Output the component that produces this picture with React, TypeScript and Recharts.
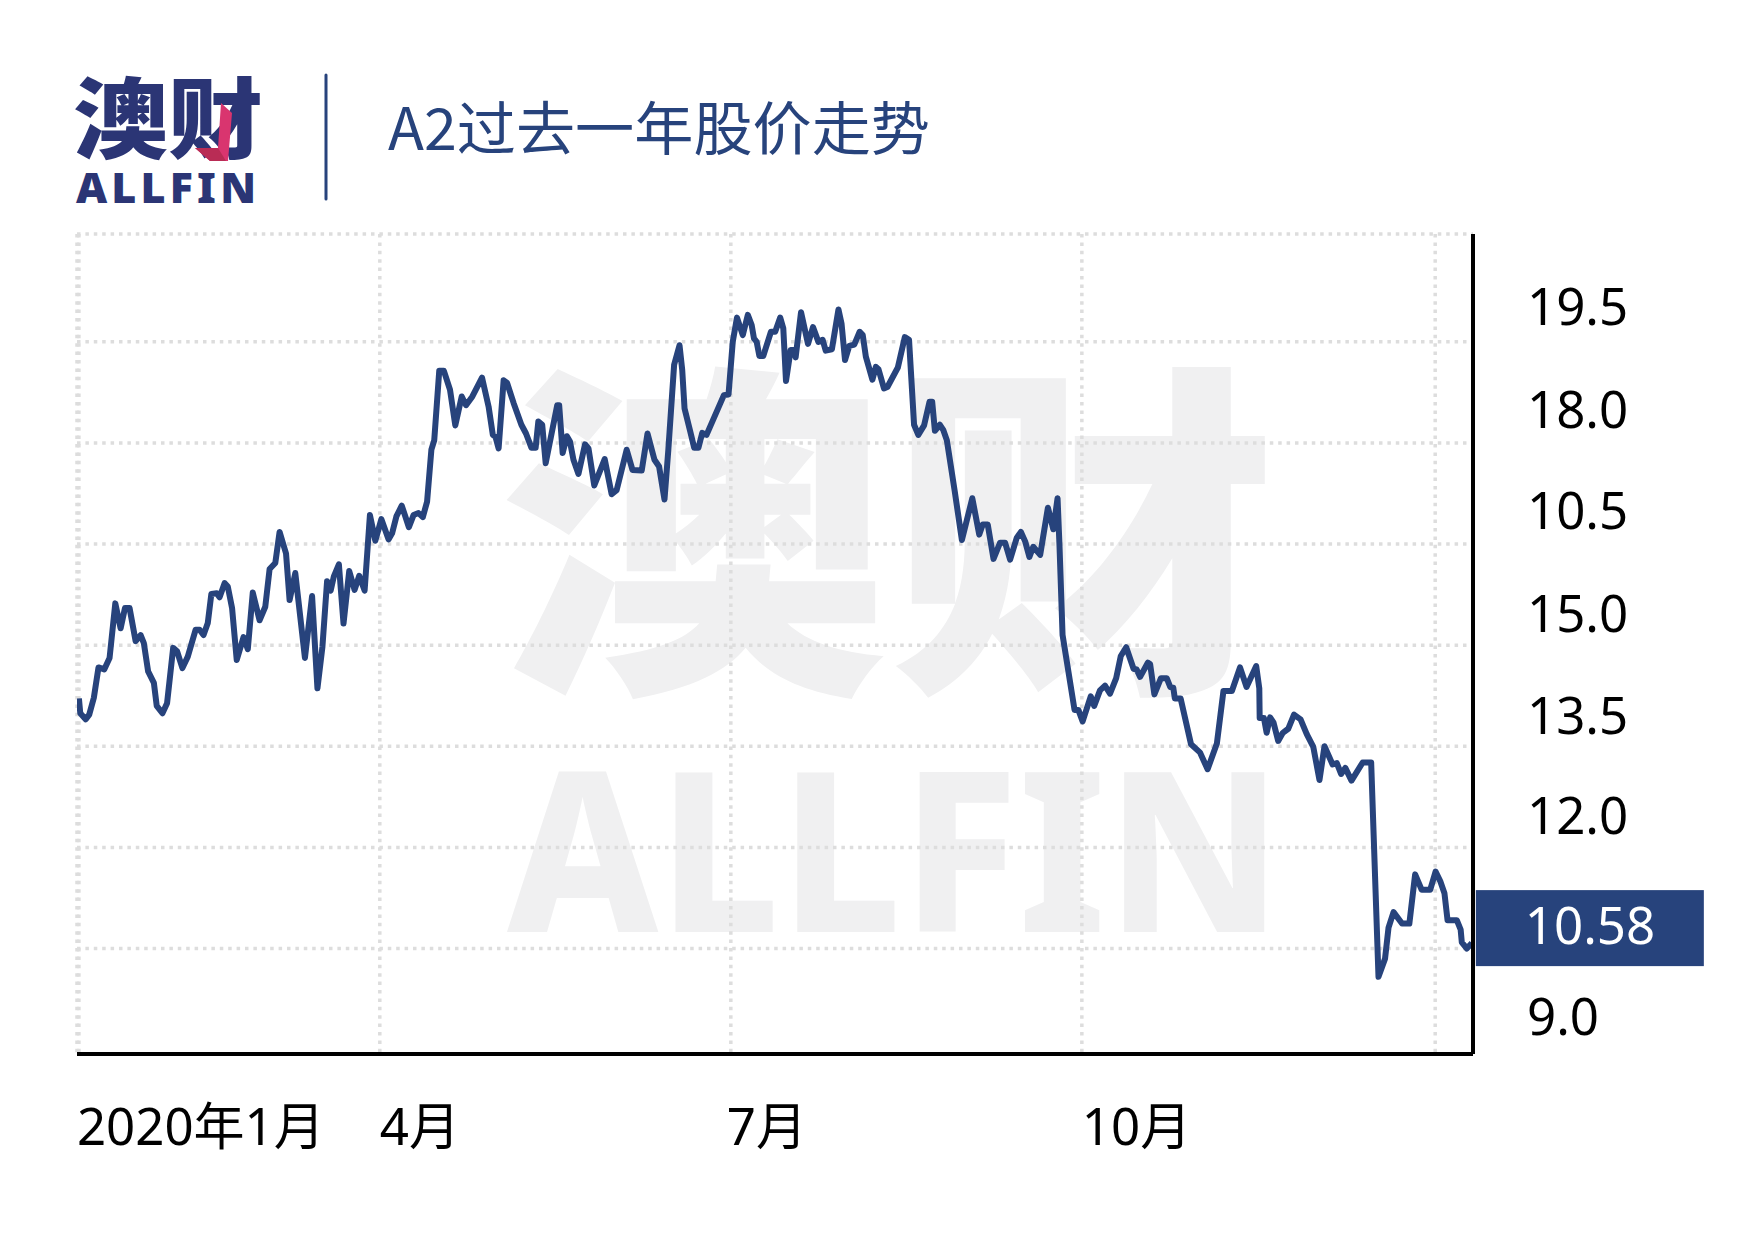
import React from "react";
import { LineChart, Line, XAxis, YAxis, CartesianGrid, ReferenceDot } from "recharts";

const days = [
  0,0.35,1.74,2.67,3.87,5.07,6.56,7.94,9.43,10.81,11.93,13.13,14.7,16,16.83,17.94,19.43,20.17,21.65,22.85,24.43,25.44,26.83,28.22,30.26,31.28,32.3,33.41,34.33,35.72,36.46,37.76,38.59,39.7,40.91,42.67,43.78,45.07,46.83,48.31,49.43,50.91,52.02,53.69,54.61,56.09,58.59,60.44,61.83,63.13,64.33,65.26,66.09,67.39,68.59,70.07,71.46,72.67,74.06,75.44,76.83,78.41,80.26,81.19,82.3,83.69,85.54,86.74,88.04,89.15,90.26,91.37,92.11,93.41,94.61,96.2,97.57,99.24,100.35,102,104.5,106.2,107.3,108,108.8,110.1,111,112.7,114.7,115.9,117.3,118.4,119.1,120.1,121,124,124.5,125.4,126.5,127.3,128.2,129.5,131.2,132.1,133.6,136.3,138.1,
  139.4,142,143.5,145.9,147.4,149.2,150.4,151.8,152.8,154.3,155.7,156.4,157,158.4,159.5,160.6,161.6,162.7,167.2,168.4,169.5,170.6,172.1,173.4,174.4,175,175.7,176.4,177.4,179.4,180.5,181.8,182.6,183.3,184.5,185.4,185.8,187.2,189,190.3,191.7,192.8,193.6,195.2,196.9,197.7,198.6,199.7,201,202.4,203.2,204,205.7,206.6,207.3,208.7,209.6,212.3,214.1,215.2,216.5,217.6,219.1,220.5,221.2,221.9,223.2,224.1,225,227,228.9,231.6,233.4,234.3,235.6,237.1,238.8,240.1,241.4,243.1,244.2,245.3,246.4,247.4,249.2,251.2,252.6,253.7,
  254.2,255,258.1,259.1,260.2,262.3,263.2,264.7,266,267.3,268.9,270.1,271.5,273.4,274.2,275.1,277.1,277.7,278.8,280.5,282,282.9,283.7,284.1,285.6,288.3,290.6,292.6,295,296.7,298.9,301,302.7,305.2,306,306.1,307.2,307.9,308.8,309.7,310.9,312.1,313.5,315,316.7,318.3,320,321.6,322.9,325,326.1,327.2,328.3,329.9,332.8,335,336.9,338.6,339.5,340.8,343,344.9,346.4,348.1,350.3,351.7,352.9,354,354.8,357.2,358.2,358.5,359.8,361.1,
];

const prices = [
  14.21,13.99,13.9,13.97,14.22,14.67,14.64,14.81,15.62,15.25,15.55,15.55,15.06,15.15,15.03,14.61,14.44,14.1,13.99,14.14,14.96,14.91,14.66,14.83,15.23,15.23,15.15,15.33,15.76,15.77,15.71,15.92,15.87,15.55,14.78,15.12,14.94,15.78,15.37,15.57,16.13,16.22,16.68,16.36,15.67,16.07,14.81,15.73,14.36,14.98,15.95,15.81,16.02,16.2,15.32,16.1,15.82,16.03,15.81,16.93,16.55,16.87,16.57,16.66,16.91,17.07,16.75,16.93,16.96,16.9,17.13,17.9,18.04,19.07,19.07,18.79,18.26,18.69,18.56,18.69,18.97,18.54,18.12,18.09,17.92,18.93,18.89,18.59,18.27,18.14,17.93,17.93,18.32,18.27,17.7,18.56,18.56,17.85,18.1,18.02,17.75,17.54,17.98,17.92,17.37,17.76,17.24,
  17.3,17.9,17.6,17.59,18.14,17.75,17.65,17.16,17.9,19.16,19.45,19.08,18.51,18.19,17.93,17.93,18.15,18.12,18.71,18.72,19.5,19.86,19.6,19.9,19.75,19.55,19.5,19.29,19.29,19.65,19.65,19.86,19.7,18.92,19.38,19.38,19.27,19.94,19.47,19.72,19.5,19.53,19.37,19.39,19.98,19.77,19.23,19.44,19.46,19.65,19.6,19.28,18.94,19.13,19.09,18.81,18.83,19.12,19.57,19.53,18.27,18.12,18.26,18.61,18.61,18.18,18.27,18.19,18.04,17.3,16.56,17.18,16.64,16.79,16.79,16.28,16.52,16.52,16.27,16.59,16.68,16.54,16.31,16.46,16.34,17.04,16.72,17.18,
  16.48,15.15,14.04,14.04,13.87,14.24,14.1,14.33,14.4,14.28,14.51,14.84,14.97,14.65,14.64,14.53,14.74,14.72,14.27,14.51,14.51,14.38,14.37,14.21,14.21,13.53,13.41,13.16,13.54,14.32,14.32,14.67,14.38,14.69,14.36,13.92,13.92,13.7,13.93,13.85,13.58,13.7,13.76,13.97,13.9,13.68,13.49,13,13.5,13.23,13.25,13.09,13.18,12.99,13.26,13.26,10.08,10.35,10.81,11.04,10.87,10.87,11.6,11.37,11.37,11.64,11.5,11.32,10.92,10.92,10.78,10.59,10.5,10.58,
];

const xTicks = [0, 78, 169, 260, 351.6];
const xTickLabels = ["2020年1月", "4月", "7月", "10月", ""];
const yTicks = [9, 10.5, 12, 13.5, 15, 16.5, 18, 19.5, 21.1];
const yTickLabels = ["9.0", "", "12.0", "13.5", "15.0", "10.5", "18.0", "19.5", ""];
const gridValues = [10.5, 12, 13.5, 15, 16.5, 18, 19.5, 21.1];
const lastPriceLabel = "10.58";
const titleText = "A2过去一年股价走势";
const brandCn = "澳财";
const brandEn = "ALLFIN";

const chartData = days.map((day, i) => ({ day, price: prices[i] }));
const lastDay = days[days.length - 1];
const lastPrice = prices[prices.length - 1];

const NAVY = "#27437c";
const LOGO = "#2b3575";
const LATIN = '"Noto Sans","Noto Sans CJK SC",sans-serif';
const CJK = '"Noto Sans CJK SC","Noto Sans",sans-serif';

const xLabelNudge = [-2, 0, -4, 0, 0];
const yLabelNudge = [-2, 0, 0, 1, 0, -2, -2, -4, 0];

const XTick = (p: any) => {
  const i = xTicks.indexOf(p.payload.value);
  return (
    <text x={p.x + xLabelNudge[i]} y={p.y + 89} fontSize={51} fontFamily={LATIN} fill="#000" textAnchor="start">
      {xTickLabels[i]}
    </text>
  );
};

const YTick = (p: any) => {
  const i = yTicks.indexOf(p.payload.value);
  return (
    <text x={p.x + 52} y={p.y - 13 + yLabelNudge[i]} fontSize={51} fontFamily={LATIN} fill="#000" textAnchor="start">
      {yTickLabels[i]}
    </text>
  );
};

const PriceBox = (p: any) => (
  <g>
    <rect x={p.cx + 4} y={p.cy - 53} width={228} height={76} fill={NAVY} />
    <text x={p.cx + 53} y={p.cy + 1} fontSize={51} fontFamily={LATIN} fill="#fff">
      {lastPriceLabel}
    </text>
  </g>
);

const Backdrop = () => (
  <svg width={1748} height={1240} style={{ position: "absolute", left: 0, top: 0 }}>
    <text x={498} y={666} fontSize={350} fontWeight={900} fontFamily={CJK} fill="#f0f0f1" textLength={780} lengthAdjust="spacingAndGlyphs">
      {brandCn}
    </text>
    <text x={507} y={932} fontSize={224} fontWeight={800} fontFamily={LATIN} fill="#f0f0f1" textLength={775} lengthAdjust="spacingAndGlyphs">
      {brandEn}
    </text>
    <text x={73} y={151} fontSize={88} fontWeight={900} fontFamily={CJK} fill={LOGO} textLength={190} lengthAdjust="spacingAndGlyphs">
      {brandCn}
    </text>
    <polygon points="221,103 232,113 228,161 210,161 195,148 218,148" fill="#d9356f" />
    <polygon points="195,148 218,148 226,161 210,161" fill="#b92c55" />
    <text x={76} y={203} fontSize={43} fontWeight={900} fontFamily={LATIN} fill={LOGO} textLength={180} lengthAdjust="spacing">
      {brandEn}
    </text>
    <line x1={326} y1={75} x2={326} y2={199} stroke={NAVY} strokeWidth={3} strokeLinecap="round" />
    <text x={388} y={150} fontSize={58} fontWeight={400} fontFamily={CJK} fill={NAVY} textLength={542} lengthAdjust="spacingAndGlyphs">
      {titleText}
    </text>
  </svg>
);

export default function App() {
  return (
    <div style={{ position: "absolute", left: 0, top: 0, width: 1748, height: 1240, overflow: "hidden", background: "#fff" }}>
      <Backdrop />
      <div style={{ position: "absolute", left: 0, top: 0 }}>
        <LineChart width={1748} height={1240} data={chartData} margin={{ top: 234, right: 0, bottom: 0, left: 77 }}>
          <CartesianGrid stroke="#dddddd" strokeWidth={3.5} strokeDasharray="3.5 4.9" horizontalValues={gridValues} />
          <XAxis
            type="number"
            dataKey="day"
            domain={[-0.5, 361.4]}
            ticks={xTicks}
            interval={0}
            height={186}
            tickSize={0}
            tickLine={false}
            allowDataOverflow
            axisLine={{ stroke: "#000", strokeWidth: 4 }}
            tick={XTick}
          />
          <YAxis
            orientation="right"
            domain={[8.935, 21.1]}
            ticks={yTicks}
            interval={0}
            width={275}
            tickSize={0}
            tickLine={false}
            axisLine={{ stroke: "#000", strokeWidth: 4 }}
            tick={YTick}
          />
          <Line
            type="linear"
            dataKey="price"
            stroke={NAVY}
            strokeWidth={6}
            dot={false}
            activeDot={false}
            strokeLinejoin="round"
            isAnimationActive={false}
          />
          <ReferenceDot x={lastDay} y={lastPrice} ifOverflow="visible" shape={PriceBox} />
        </LineChart>
      </div>
    </div>
  );
}
